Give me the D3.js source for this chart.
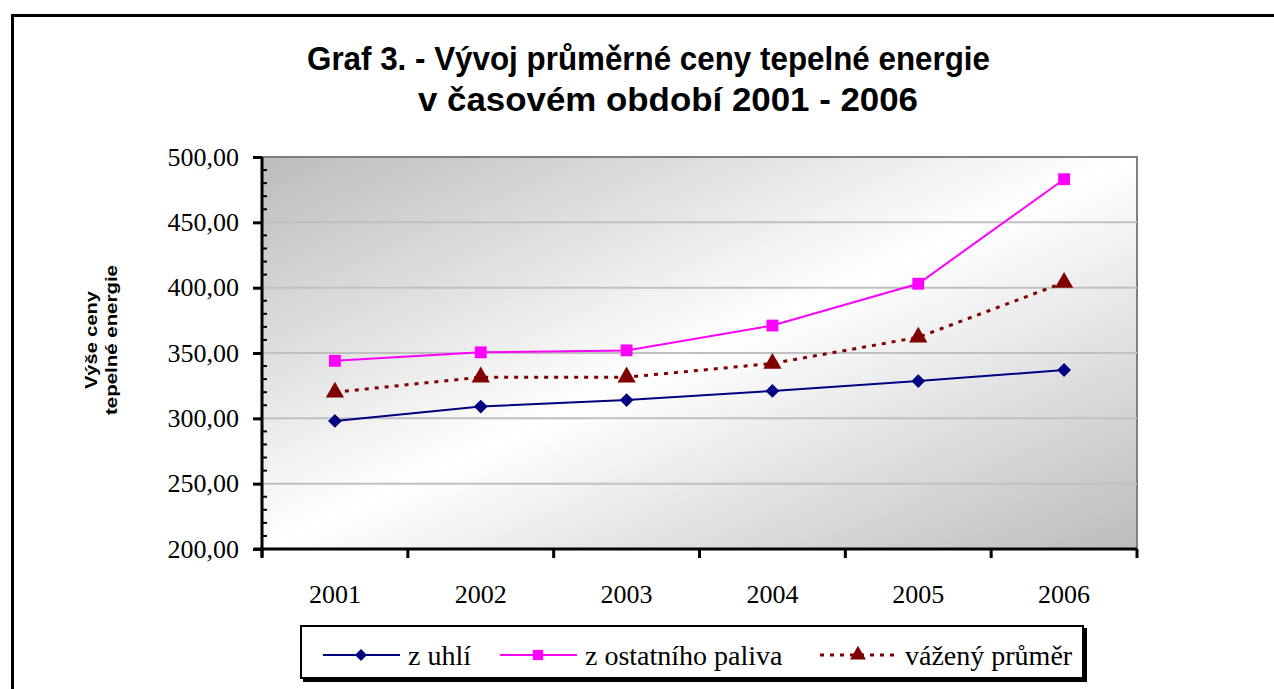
<!DOCTYPE html>
<meta charset="utf-8">
<body style="margin:0; background:white;">
<div id="chart"></div>
<script src="https://cdn.jsdelivr.net/npm/d3@7"></script>
<script>
// data
const years = ["2001", "2002", "2003", "2004", "2005", "2006"];
const zUhli = [298, 309, 314, 321, 328.5, 337];
const zOstatniho = [344, 350.5, 352, 371, 403, 483];
const vazenyPrumer = [320, 331.5, 331.5, 342, 362, 404];
const yTicks = [200, 250, 300, 350, 400, 450, 500];

const width = 1274, height = 689;
const plot = {left: 262, right: 1137, top: 157, bottom: 549};

const svg = d3.select("#chart").append("svg")
    .attr("width", width)
    .attr("height", height);

// outer frame, runs off the right and bottom edge
svg.append("rect")
    .attr("x", 12.5).attr("y", 15.5)
    .attr("width", 1300).attr("height", 720)
    .attr("fill", "white")
    .attr("stroke", "black")
    .attr("stroke-width", 3);

// title (narrow, tall glyphs in the original)
const titleFont = "Liberation Sans Narrow, Liberation Sans, Arial, sans-serif";
svg.append("text")
    .attr("x", 307).attr("y", 70)
    .attr("font-family", titleFont)
    .attr("font-weight", "bold")
    .attr("font-size", 34)
    .attr("textLength", 683)
    .attr("lengthAdjust", "spacingAndGlyphs")
    .text("Graf 3. - Vývoj průměrné ceny tepelné energie");
svg.append("text")
    .attr("x", 418).attr("y", 111)
    .attr("font-family", titleFont)
    .attr("font-weight", "bold")
    .attr("font-size", 34)
    .attr("textLength", 500)
    .attr("lengthAdjust", "spacingAndGlyphs")
    .text("v časovém období 2001 - 2006");

// plot background gradient
const defs = svg.append("defs");
const grad = defs.append("linearGradient")
    .attr("id", "bg")
    .attr("x1", "0").attr("y1", "0")
    .attr("x2", "1").attr("y2", "1");
grad.append("stop").attr("offset", "0").attr("stop-color", "#bcbcbc");
grad.append("stop").attr("offset", "0.5").attr("stop-color", "#ffffff");
grad.append("stop").attr("offset", "1").attr("stop-color", "#bcbcbc");

svg.append("rect")
    .attr("x", plot.left).attr("y", plot.top)
    .attr("width", plot.right - plot.left)
    .attr("height", plot.bottom - plot.top)
    .attr("fill", "url(#bg)")
    .attr("stroke", "#808080")
    .attr("stroke-width", 2);

const x = d3.scaleBand()
    .domain(years)
    .range([plot.left, plot.right]);

const y = d3.scaleLinear()
    .domain([200, 500])
    .range([plot.bottom, plot.top]);

// gridlines
svg.append("g")
    .selectAll("line")
    .data(yTicks.filter(d => d > 200 && d < 500))
    .enter().append("line")
    .attr("x1", plot.left).attr("x2", plot.right)
    .attr("y1", d => y(d)).attr("y2", d => y(d))
    .attr("stroke", "#c0c0c0")
    .attr("stroke-width", 2);

// y axis
const yAxis = svg.append("g")
    .attr("transform", `translate(${plot.left},0)`)
    .call(d3.axisLeft(y)
        .tickValues(yTicks)
        .tickSize(9)
        .tickPadding(14)
        .tickFormat(d => d3.format(".2f")(d).replace(".", ",")));
yAxis.select(".domain").attr("stroke-width", 3).attr("d", `M0,${plot.top}V${plot.bottom + 8}`);
yAxis.selectAll(".tick line").attr("stroke-width", 3);
yAxis.selectAll("text")
    .attr("font-family", "Liberation Serif, Times New Roman, serif")
    .attr("font-size", 26)
    .attr("fill", "black");

// minor ticks on the inside
svg.append("g")
    .selectAll("line")
    .data(d3.range(210, 500, 10).filter(d => d % 50 !== 0))
    .enter().append("line")
    .attr("x1", plot.left).attr("x2", plot.left + 5)
    .attr("y1", d => y(d)).attr("y2", d => y(d))
    .attr("stroke", "black")
    .attr("stroke-width", 2);

// x axis
const xAxis = svg.append("g")
    .attr("transform", `translate(0,${plot.bottom})`)
    .call(d3.axisBottom(x).tickSize(0).tickPadding(36));
xAxis.select(".domain").attr("stroke-width", 3).attr("d", `M${plot.left - 8},0H${plot.right}`);
xAxis.selectAll("text")
    .attr("font-family", "Liberation Serif, Times New Roman, serif")
    .attr("font-size", 26)
    .attr("fill", "black");
xAxis.append("g")
    .selectAll("line")
    .data(years.map(d => x(d)).concat([plot.right]))
    .enter().append("line")
    .attr("x1", d => d).attr("x2", d => d)
    .attr("y1", 0).attr("y2", 9)
    .attr("stroke", "black")
    .attr("stroke-width", 3);

// y axis title
const yTitle = svg.append("text")
    .attr("transform", "translate(101,340) rotate(-90)")
    .attr("text-anchor", "middle")
    .attr("font-family", "Liberation Sans, Arial, sans-serif")
    .attr("font-weight", "bold")
    .attr("font-size", 17);
yTitle.append("tspan").attr("x", 0).attr("dy", -4)
    .attr("textLength", 98).attr("lengthAdjust", "spacingAndGlyphs")
    .text("Výše ceny");
yTitle.append("tspan").attr("x", 0).attr("dy", 20)
    .attr("textLength", 150).attr("lengthAdjust", "spacingAndGlyphs")
    .text("tepelné energie");

// series
const cx = d => x(d) + x.bandwidth() / 2;
const series = [
    {name: "z uhlí", values: zUhli, color: "#000080", dash: null, marker: d3.symbolSquare, size: 95, rot: 45},
    {name: "z ostatního paliva", values: zOstatniho, color: "#ff00ff", dash: null, marker: d3.symbolSquare, size: 140, rot: 0},
    {name: "vážený průměr", values: vazenyPrumer, color: "#800000", dash: "4,6", marker: d3.symbolTriangle, size: 145, rot: 0}
];

const line = d3.line()
    .x((d, i) => cx(years[i]))
    .y(d => y(d));

series.forEach(s => {
    svg.append("path")
        .attr("d", line(s.values))
        .attr("fill", "none")
        .attr("stroke", s.color)
        .attr("stroke-width", s.dash ? 3 : 2)
        .attr("stroke-dasharray", s.dash);
    svg.append("g")
        .selectAll("path")
        .data(s.values)
        .enter().append("path")
        .attr("transform", (d, i) => `translate(${cx(years[i])},${y(d)}) rotate(${s.rot})`)
        .attr("d", d3.symbol().type(s.marker).size(s.size))
        .attr("fill", s.color);
});

// legend
const legend = svg.append("g");
legend.append("rect")
    .attr("x", 303).attr("y", 628)
    .attr("width", 784).attr("height", 54)
    .attr("fill", "black");
legend.append("rect")
    .attr("x", 301).attr("y", 626)
    .attr("width", 782).attr("height", 52)
    .attr("fill", "white")
    .attr("stroke", "black")
    .attr("stroke-width", 2);

const legendX = [323, 500, 820];
series.forEach((s, i) => {
    const lx = legendX[i];
    legend.append("line")
        .attr("x1", lx).attr("x2", lx + 77)
        .attr("y1", 655).attr("y2", 655)
        .attr("stroke", s.color)
        .attr("stroke-width", s.dash ? 3 : 2)
        .attr("stroke-dasharray", s.dash);
    legend.append("path")
        .attr("transform", `translate(${lx + 38},655) rotate(${s.rot})`)
        .attr("d", d3.symbol().type(s.marker).size(s.size * 0.75))
        .attr("fill", s.color);
    legend.append("text")
        .attr("x", lx + 85).attr("y", 665)
        .attr("font-family", "Liberation Serif, Times New Roman, serif")
        .attr("font-size", 28)
        .text(s.name);
});
</script>
</body>
